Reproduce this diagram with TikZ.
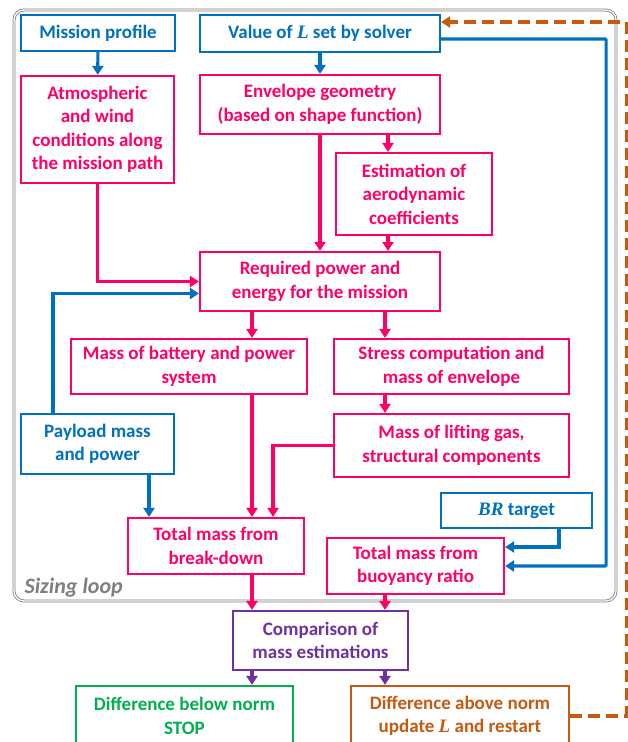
\documentclass[tikz,border=0pt]{standalone}
\usepackage{fontspec}
\setmainfont{Carlito}
\newfontfamily\symfont{Liberation Serif}
\newcommand{\symvar}[1]{{\symfont\bfseries\itshape #1}}
\usetikzlibrary{arrows.meta, positioning, calc}

\definecolor{myblue}{HTML}{0070C0}
\definecolor{mypink}{HTML}{FF0066}
\definecolor{mypurple}{HTML}{7030A0}
\definecolor{mygreen}{HTML}{00B050}
\definecolor{myorange}{HTML}{C55A11}
\definecolor{mygray}{HTML}{7F7F7F}

\tikzset{
  box/.style={draw, line width=2.2pt, align=center, inner sep=0pt, fill=white,
              font=\bfseries\fontsize{19}{23.5}\selectfont},
  bluebox/.style={box, draw=myblue, text=myblue},
  pinkbox/.style={box, draw=mypink, text=mypink},
  purplebox/.style={box, draw=mypurple, text=mypurple},
  greenbox/.style={box, draw=mygreen, text=mygreen},
  orangebox/.style={box, draw=myorange, text=myorange},
  arr/.style={line width=3.2pt, -{Triangle[length=9pt,width=11pt]}},
}

\begin{document}
\begin{tikzpicture}[x=1pt, y=-1pt]
\useasboundingbox (0,0) rectangle (628,742);
% sizing loop frame
\draw[mygray, line width=0.8pt, double=white, double distance=1.3pt, rounded corners=10pt]
  (14,10) rectangle (616,601);
\node (sizinglabel) [anchor=base west, text=mygray, font=\bfseries\itshape\fontsize{22}{24}\selectfont]
  at (21,593) {Sizing loop};

% boxes
\node (mission)   [bluebox, minimum width=154, minimum height=36] at (98,33) {Mission profile};
\node (value)     [bluebox, minimum width=240, minimum height=37] at (320,33.5) {Value of \symvar{L} set by solver};
\node (atmos)     [pinkbox, minimum width=153, minimum height=107] at (97.5,129.5)
  {Atmospheric\\and wind\\conditions along\\the mission path};
\node (envelope)  [pinkbox, minimum width=240, minimum height=59] at (320,104.5)
  {Envelope geometry\\(based on shape function)};
\node (estim)     [pinkbox, minimum width=156, minimum height=82] at (414,194)
  {Estimation of\\aerodynamic\\coefficients};
\node (required)  [pinkbox, minimum width=240, minimum height=59] at (320,281.5)
  {Required power and\\energy for the mission};
\node (battery)   [pinkbox, minimum width=236, minimum height=55] at (189,366.5)
  {Mass of battery and power\\system};
\node (stress)    [pinkbox, minimum width=235, minimum height=55] at (451.5,366.5)
  {Stress computation and\\mass of envelope};
\node (lifting)   [pinkbox, minimum width=235, minimum height=63] at (451.5,445.5)
  {Mass of lifting gas,\\structural components};
\node (payload)   [bluebox, minimum width=153, minimum height=60] at (97.5,444)
  {Payload mass\\and power};
\node (brtarget)  [bluebox, minimum width=151, minimum height=35] at (516.5,510.5)
  {\symvar{BR} target};
\node (breakdown) [pinkbox, minimum width=176, minimum height=56] at (216,546)
  {Total mass from\\break-down};
\node (buoyancy)  [pinkbox, minimum width=177, minimum height=56] at (415.5,566)
  {Total mass from\\buoyancy ratio};
\node (compare)   [purplebox, minimum width=175, minimum height=59] at (320.5,640.5)
  {Comparison of\\mass estimations};
\node (below)     [greenbox, minimum width=217, minimum height=60] at (184.5,716)
  {Difference below norm\\STOP};
\node (above)     [orangebox, minimum width=218, minimum height=60] at (460,716)
  {Difference above norm\\update \symvar{L} and restart};

% blue connectors
\draw[arr, myblue] (mission) -- (atmos);
\draw[arr, myblue] (value) -- (envelope);
\draw[arr, myblue, rounded corners=1pt] ([yshift=-5.5pt]value.east) -- ++(165,0) |- (buoyancy.east);
\draw[arr, myblue] ([xshift=-44.5pt]payload.north) |- ([yshift=-12pt]required.west);
\draw[arr, myblue] ([xshift=51.5pt]payload.south) -- ([xshift=51.5pt]payload.south |- breakdown.north);
\draw[arr, myblue] ([xshift=42.5pt]brtarget.south) |- ([yshift=19pt]buoyancy.east);

% pink connectors
\draw[arr, mypink] (atmos.south) |- (required.west);
\draw[arr, mypink] (envelope) -- (required);
\draw[arr, mypink] ([xshift=-26pt]estim.north |- envelope.south) -- ([xshift=-26pt]estim.north);
\draw[arr, mypink] ([xshift=-26pt]estim.south) -- ([xshift=-26pt]estim.south |- required.north);
\draw[arr, mypink] ([xshift=-68pt]required.south) -- ([xshift=-68pt]required.south |- battery.north);
\draw[arr, mypink] ([xshift=65pt]required.south) -- ([xshift=65pt]required.south |- stress.north);
\draw[arr, mypink] ([xshift=-66.5pt]stress.south) -- ([xshift=-66.5pt]lifting.north);
\draw[arr, mypink] ([xshift=63pt]battery.south) -- ([xshift=36pt]breakdown.north);
\draw[arr, mypink] (lifting.west) -| ([xshift=57pt]breakdown.north);
\draw[arr, mypink] ([xshift=36pt]breakdown.south) -- ([xshift=-68.5pt]compare.north);
\draw[arr, mypink] ([xshift=-30.5pt]buoyancy.south) -- ([xshift=64.5pt]compare.north);

% purple connectors
\draw[arr, mypurple] ([xshift=-68.5pt]compare.south) -- ([xshift=-68.5pt]compare.south |- below.north);
\draw[arr, mypurple] ([xshift=64.5pt]compare.south) -- ([xshift=64.5pt]compare.south |- above.north);

% restart loop
\draw[arr, myorange, dash pattern=on 12pt off 6pt] (above.east) -- ++(56,0) |- ([yshift=11.5pt]value.east);
\end{tikzpicture}
\end{document}
